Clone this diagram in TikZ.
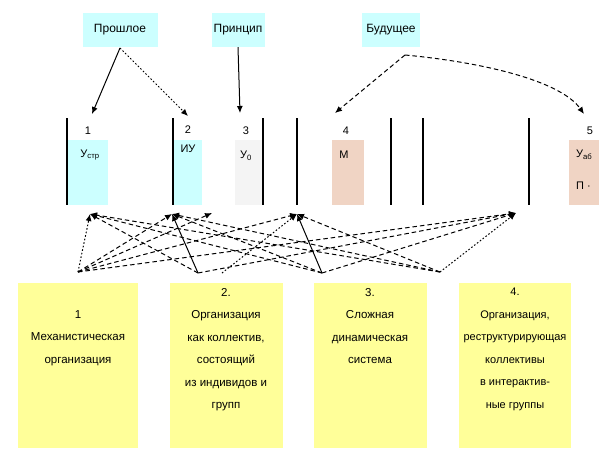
\documentclass[tikz,border=0pt]{standalone}
\usepackage{fontspec}
\setmainfont{Liberation Sans}
\usetikzlibrary{arrows.meta}
\definecolor{topc}{HTML}{CCFFFF}
\definecolor{salm}{HTML}{F0D4C4}
\definecolor{grayc}{HTML}{F4F4F4}
\definecolor{yel}{HTML}{FFFF99}
\tikzset{
  topbox/.style={fill=topc, draw=none, inner sep=0pt, font=\fontsize{12}{14}\selectfont},
  colbox/.style={draw=none, inner sep=0pt, anchor=north west},
  botbox/.style={fill=yel, draw=none, inner sep=0pt, anchor=north west},
  bottxt/.style={align=center, anchor=north, inner sep=0pt, font=\fontsize{11.5}{22.5}\selectfont},
  vline/.style={line width=1.5pt},
  conn/.style={-{Latex[length=7pt,width=6pt]}, line width=1pt},
  dsh/.style={conn, dash pattern=on 4.5pt off 3pt},
  dtt/.style={conn, dash pattern=on 1.6pt off 2pt},
  lbl/.style={inner sep=0pt, font=\fontsize{11}{13}\selectfont}
}
\begin{document}
\begin{tikzpicture}[x=1pt,y=-1pt]
\useasboundingbox (0,0) rectangle (599,450);
% top boxes
\node[topbox, minimum width=75pt, minimum height=34pt] (p1) at (120,30) {Прошлое};
\node[topbox, minimum width=53pt, minimum height=34pt] (p2) at (238,30) {Принцип};
\node[topbox, minimum width=58pt, minimum height=34pt] (p3) at (391,30) {Будущее};
% column boxes
\node[colbox, fill=topc, minimum width=40pt, minimum height=65pt] (c1) at (68,140) {};
\node[colbox, fill=topc, minimum width=28pt, minimum height=65pt] (c2) at (174,140) {};
\node[colbox, fill=grayc, minimum width=27pt, minimum height=65pt] (c3) at (235,140) {};
\node[colbox, fill=salm, minimum width=32pt, minimum height=65pt] (c4) at (332,140) {};
\node[colbox, fill=salm, minimum width=32pt, minimum height=65pt] (c5) at (569,140) {};
% vertical lines
\foreach \x/\n in {67/a,173/b,263/c,297/d,391/e,423/f,529/g}{
  \draw[vline] (\x,118) coordinate (\n t) -- (\x,205) coordinate (\n b);
}
% numbers and texts
\node[lbl] (n1) at (88,131) {1};
\node[lbl] (n2) at (188,130) {2};
\node[lbl] (n3) at (246,131) {3};
\node[lbl] (n4) at (346,131) {4};
\node[lbl] (n5) at (590,131) {5};
\node[lbl] (t1) at (90,155) {У\textsubscript{стр}};
\node[lbl] (t2) at (188,149) {ИУ};
\node[lbl] (t3) at (246,156) {У\textsubscript{0}};
\node[lbl] (t4) at (344,155) {М};
\node[lbl, anchor=west] (t5) at (576,155) {У\textsubscript{аб}};
\node[lbl, anchor=west] (t6) at (576,186) {П ·};
% top arrows
\coordinate (o1) at (120,48);
\coordinate (o3) at (405,55);
\coordinate (a1) at (92,114);
\coordinate (a2) at (188,116);
\coordinate (a3) at (240,113);
\coordinate (a4) at (335,113);
\coordinate (a5) at (584,114);
\draw[conn] (o1) -- (a1);
\draw[dtt] (o1) -- (a2);
\draw[conn] (p2.south) -- (a3);
\draw[dsh] (o3) -- (a4);
\draw[dsh] (o3) .. controls (480,62) and (560,80) .. (a5);
% bottom boxes
\node[botbox, minimum width=120pt, minimum height=165pt] (b1) at (18,283) {};
\node[botbox, minimum width=113pt, minimum height=165pt] (b2) at (170,283) {};
\node[botbox, minimum width=113pt, minimum height=165pt] (b3) at (314,283) {};
\node[botbox, minimum width=112pt, minimum height=165pt] (b4) at (459,283) {};
\node[bottxt] (x1) at (78,310) {1\\Механистическая\\организация};
\node[bottxt] (x2) at (226,288) {2.\\Организация\\как коллектив,\\состоящий\\из индивидов и\\групп};
\node[bottxt] (x3) at (370,288) {3.\\Сложная\\динамическая\\система};
\node[bottxt, font=\fontsize{11}{22.5}\selectfont] (x4) at (515,288) {4.\\Организация,\\реструктурирующая\\коллективы\\в интерактив-\\ные группы};
% connectors between
\coordinate (s1) at (78,272);
\coordinate (s2) at (198,273);
\coordinate (s2b) at (222,273);
\coordinate (s3) at (322,273);
\coordinate (s4) at (440,272);
\coordinate (e1) at (90,214);
\coordinate (e2) at (172,214);
\coordinate (e3) at (212,213);
\coordinate (e4) at (297,214);
\coordinate (e5) at (516,213);
\draw[dtt] (s1) -- (e1);
\draw[dsh] (s1) -- (e2);
\draw[dsh] (s1) -- (e4);
\draw[dsh] (s1) -- (e5);
\draw[dsh] (s1) -- (e3);
\draw[conn] (s2) -- (e2);
\draw[dsh] (s2) -- (e1);
\draw[dtt] (s2b) -- (e4);
\draw[dsh] (s2) -- (e5);
\draw[conn] (s3) -- (e4);
\draw[dsh] (s3) -- (e1);
\draw[dsh] (s3) -- (e2);
\draw[dsh] (s3) -- (e5);
\draw[dtt] (s4) -- (e5);
\draw[dsh] (s4) -- (e1);
\draw[dsh] (s4) -- (e2);
\draw[dsh] (s4) -- (e4);
\end{tikzpicture}
\end{document}
